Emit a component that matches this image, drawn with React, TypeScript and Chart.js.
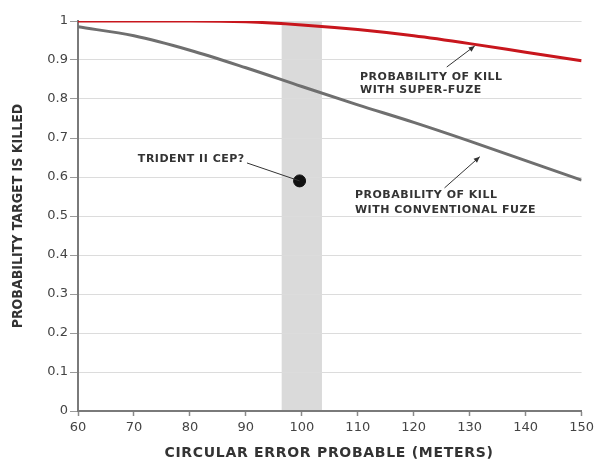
import { useEffect, useRef } from "react";
import { Chart, registerables } from "chart.js";

Chart.register(...registerables);

// ---- data ----
const cepMeters = [60, 70, 80, 90, 100, 110, 120, 130, 140, 150];
const superFuzeKill = [1, 1, 1, 0.998, 0.99, 0.978, 0.962, 0.942, 0.92, 0.898];
const conventionalKill = [0.985, 0.962, 0.925, 0.88, 0.832, 0.785, 0.74, 0.692, 0.642, 0.592];
const tridentCepX = [99.6];
const tridentCepY = [0.59];
const tridentBand = [96.4, 103.6];
const xTickValues = [60, 70, 80, 90, 100, 110, 120, 130, 140, 150];
const yTickValues = [0, 0.1, 0.2, 0.3, 0.4, 0.5, 0.6, 0.7, 0.8, 0.9, 1];

const xTitle = "CIRCULAR ERROR PROBABLE (METERS)";
const yTitle = "PROBABILITY TARGET IS KILLED";
const superLabel = ["PROBABILITY OF KILL", "WITH SUPER-FUZE"];
const convLabel = ["PROBABILITY OF KILL", "WITH CONVENTIONAL FUZE"];
const tridentLabel = "TRIDENT II CEP?";

const RED = "#c8161d";
const GRAY = "#6f6f6f";
const TEXT = "#333333";
const ANN_FONT = 'bold 11px "DejaVu Sans", sans-serif';

function arrow(ctx: CanvasRenderingContext2D, x1: number, y1: number, x2: number, y2: number) {
  ctx.save();
  ctx.strokeStyle = TEXT;
  ctx.fillStyle = TEXT;
  ctx.lineWidth = 1;
  ctx.beginPath();
  ctx.moveTo(x1, y1);
  ctx.lineTo(x2, y2);
  ctx.stroke();
  const a = Math.atan2(y2 - y1, x2 - x1);
  const L = 6, W = 2.6;
  ctx.beginPath();
  ctx.moveTo(x2, y2);
  ctx.lineTo(x2 - L * Math.cos(a) + W * Math.sin(a), y2 - L * Math.sin(a) - W * Math.cos(a));
  ctx.lineTo(x2 - L * Math.cos(a) - W * Math.sin(a), y2 - L * Math.sin(a) + W * Math.cos(a));
  ctx.closePath();
  ctx.fill();
  ctx.restore();
}

const bandPlugin = {
  id: "band",
  beforeDraw(chart: any) {
    const { ctx, chartArea, scales } = chart;
    const x1 = scales.x.getPixelForValue(tridentBand[0]);
    const x2 = scales.x.getPixelForValue(tridentBand[1]);
    ctx.save();
    ctx.fillStyle = "#dadada";
    ctx.fillRect(x1, chartArea.top, x2 - x1, chartArea.bottom - chartArea.top);
    ctx.restore();
  },
};

const textPlugin = {
  id: "texts",
  afterDraw(chart: any) {
    const { ctx, scales } = chart;
    const X = (v: number) => scales.x.getPixelForValue(v);
    const Y = (v: number) => scales.y.getPixelForValue(v);
    ctx.save();
    ctx.fillStyle = TEXT;
    ctx.textBaseline = "middle";

    // axis titles
    ctx.font = 'bold 14px "DejaVu Sans", sans-serif';
    (ctx as any).letterSpacing = "0.7px";
    ctx.textAlign = "center";
    ctx.fillText(xTitle, 329, 453);

    ctx.save();
    ctx.translate(18, 216);
    ctx.rotate(-Math.PI / 2);
    ctx.font = 'bold 14px "Liberation Sans Narrow", "DejaVu Sans Condensed", sans-serif';
    (ctx as any).letterSpacing = "0px";
    ctx.fillText(yTitle, 0, 0);
    ctx.restore();

    // annotations
    ctx.font = ANN_FONT;
    (ctx as any).letterSpacing = "0.5px";
    ctx.textAlign = "left";
    ctx.fillText(superLabel[0], X(110.4), Y(0.856));
    ctx.fillText(superLabel[1], X(110.4), Y(0.822));
    ctx.fillText(convLabel[0], X(109.5), Y(0.553));
    ctx.fillText(convLabel[1], X(109.5), Y(0.515));
    ctx.fillText(tridentLabel, X(70.7), Y(0.646));
    ctx.restore();

    arrow(ctx, X(125.9), Y(0.882), X(130.9), Y(0.936));
    arrow(ctx, X(125.5), Y(0.572), X(131.8), Y(0.652));

    ctx.save();
    ctx.strokeStyle = TEXT;
    ctx.lineWidth = 1;
    ctx.beginPath();
    ctx.moveTo(X(90.2), Y(0.636));
    ctx.lineTo(X(tridentCepX[0]), Y(tridentCepY[0]));
    ctx.stroke();
    ctx.restore();
  },
};

export default function App() {
  const ref = useRef<HTMLCanvasElement | null>(null);

  useEffect(() => {
    if (!ref.current) return;
    const chart = new Chart(ref.current, {
      type: "line",
      data: {
        datasets: [
          {
            label: "Super-fuze",
            data: cepMeters.map((x, i) => ({ x, y: superFuzeKill[i] })),
            borderColor: RED,
            borderWidth: 3,
            pointRadius: 0,
            cubicInterpolationMode: "monotone",
            order: 1,
          },
          {
            label: "Conventional fuze",
            data: cepMeters.map((x, i) => ({ x, y: conventionalKill[i] })),
            borderColor: GRAY,
            borderWidth: 3,
            pointRadius: 0,
            cubicInterpolationMode: "monotone",
            order: 2,
          },
          {
            type: "scatter",
            label: "Trident II CEP",
            data: tridentCepX.map((x, i) => ({ x, y: tridentCepY[i] })),
            backgroundColor: "#111111",
            borderColor: "#111111",
            pointRadius: 6,
            order: 0,
          },
        ],
      } as any,
      options: {
        animation: false,
        responsive: false,
        devicePixelRatio: 1,
        layout: { padding: { top: 21, right: 16, left: 0, bottom: 0 } },
        plugins: { legend: { display: false }, tooltip: { enabled: false } },
        scales: {
          x: {
            type: "linear",
            min: 60,
            max: 150,
            afterFit: (s: any) => { s.height = 50; },
            afterBuildTicks: (s: any) => { s.ticks = xTickValues.map((v) => ({ value: v })); },
            ticks: {
              color: "#444",
              font: { family: '"DejaVu Sans", sans-serif', size: 13 },
              padding: 4,
              maxRotation: 0,
              autoSkip: false,
            },
            grid: { drawOnChartArea: false, drawTicks: true, tickLength: 5, tickColor: "#8a8a8a", tickWidth: 1.5 },
            border: { color: "#7a7a7a", width: 2 },
          },
          y: {
            type: "linear",
            min: 0,
            max: 1,
            afterFit: (s: any) => { s.width = 78; },
            afterBuildTicks: (s: any) => { s.ticks = yTickValues.map((v) => ({ value: v })); },
            ticks: {
              color: "#444",
              font: { family: '"DejaVu Sans", sans-serif', size: 13 },
              padding: 2,
              callback: (v: any) => String(parseFloat(Number(v).toFixed(1))),
            },
            grid: { color: "#dcdcdc", lineWidth: 1, drawTicks: true, tickLength: 8, tickColor: "#9a9a9a" },
            border: { color: "#7a7a7a", width: 2 },
          },
        },
      } as any,
      plugins: [bandPlugin, textPlugin],
    });
    return () => chart.destroy();
  }, []);

  return (
    <div style={{ position: "absolute", left: 0, top: 0, width: 598, height: 461, background: "#fff" }}>
      <canvas ref={ref} width={598} height={461} style={{ display: "block" }} />
    </div>
  );
}
